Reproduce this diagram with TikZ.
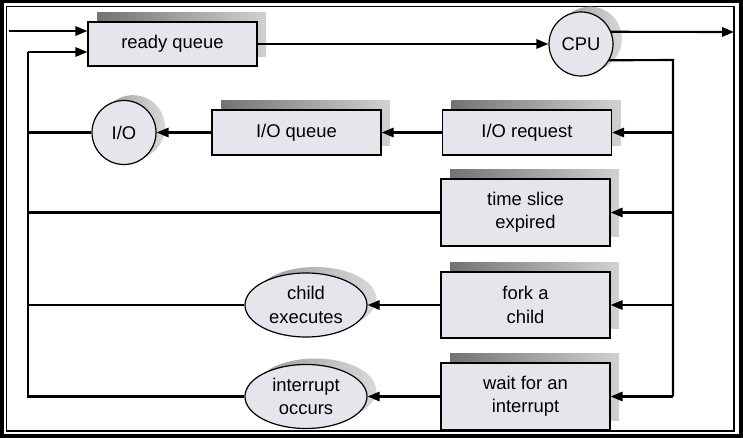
\documentclass[tikz,border=0pt]{standalone}
\usepackage{fontspec}
\setmainfont{Liberation Sans}
\usetikzlibrary{arrows.meta,positioning,calc,shapes.geometric,shadows}

\definecolor{boxfill}{RGB}{231,229,236}

\begin{document}
\begin{tikzpicture}[
		x=0.75pt, y=-0.75pt,
		every node/.style={align=center, font=\fontsize{13.8}{17.5}\selectfont},
		queueBox/.style={draw, line width=0.9pt, fill=boxfill, minimum width=126.75pt, inner sep=0pt,
				general shadow={shading=axis, left color=black!55, right color=black!18, shadow xshift=6.75pt, shadow yshift=6.75pt}},
		roundNode/.style={draw, circle, line width=0.9pt, fill=boxfill, minimum size=48pt, inner sep=0pt,
				general shadow={shading=axis, left color=black!40, right color=black!15, shadow xshift=6.75pt, shadow yshift=4pt}},
		ovalNode/.style={draw, ellipse, line width=0.9pt, fill=boxfill, minimum width=91.5pt, minimum height=48pt, inner sep=0pt,
				general shadow={shading=axis, left color=black!40, right color=black!15, shadow xshift=7pt, shadow yshift=4.5pt}},
		flow/.style={line width=1.6pt, -{Triangle[length=9pt, width=7pt]}},
		wire/.style={line width=1.6pt}
	]

	% frame
	\useasboundingbox (0,0) rectangle (743,438);
	\draw[line width=3pt] (1.5,1.5) rectangle (740.5,435.5);
	\draw[line width=0.9pt] (6.5,6.5) rectangle (734,431);

	% queues and devices
	\node[queueBox, minimum height=33pt] (RQ) at (172.5,44) {ready queue};
	\node[roundNode] (CPU) at (581,44) {CPU};
	\node[queueBox, minimum height=33.75pt] (IOR) at (527,132.5) {I/O request};
	\node[queueBox, minimum height=33.75pt] (IOQ) at (296.5,132.5) {I/O queue};
	\node[roundNode] (IO) at (124,132.5) {I/O};
	\node[queueBox, minimum height=50.25pt] (TS) at (525.5,212.5) {time slice\\expired};
	\node[queueBox, minimum height=49.5pt] (FC) at (525.5,305) {fork a\\child};
	\node[queueBox, minimum height=50.25pt] (WI) at (525.5,396.5) {wait for an\\interrupt};
	\node[ovalNode] (CE) at (306,305) {child\\executes};
	\node[ovalNode] (IC) at (306,396.5) {interrupt\\occurs};

	% bus ends
	\coordinate (in) at (9,31);
	\coordinate (out) at (734,32);
	\coordinate (R1) at (673,60);
	\coordinate (R2) at (673,396.5);
	\coordinate (L1) at (28,52);
	\coordinate (L2) at (28,396.5);

	% top row
	\draw[flow] (in) -- (in -| RQ.west);
	\draw[flow] (RQ.east) -- (CPU.west);
	\draw[flow] (CPU.22) -- (out);
	\draw[wire] (CPU.-30) -- (R1) -- (R2);

	% right bus into the boxes
	\draw[flow] (IOR.east -| R1) -- (IOR.east);
	\draw[flow] (TS.east -| R1) -- (TS.east);
	\draw[flow] (FC.east -| R1) -- (FC.east);
	\draw[flow] (R2) -- (WI.east);

	% leftwards
	\draw[flow] (IOR.west) -- (IOQ.east);
	\draw[flow] (IOQ.west) -- (IO.east);
	\draw[flow] (FC.west) -- (CE.east);
	\draw[flow] (WI.west) -- (IC.east);

	% back to the ready queue
	\draw[wire] (IO.west) -- (IO.west -| L1);
	\draw[wire] (TS.west) -- (TS.west -| L1);
	\draw[wire] (CE.west) -- (CE.west -| L1);
	\draw[wire] (IC.west) -- (L2) -- (L1);
	\draw[flow] (L1) -- (L1 -| RQ.west);
\end{tikzpicture}
\end{document}
